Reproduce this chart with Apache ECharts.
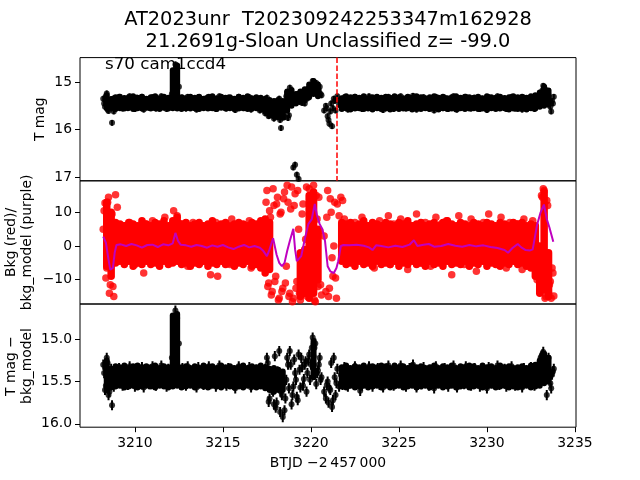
<!DOCTYPE html>
<html><head><meta charset="utf-8">
<script src="https://cdn.jsdelivr.net/npm/echarts@6/dist/echarts.min.js"></script>
<style>html,body{margin:0;padding:0;background:#fff}#c{width:640px;height:480px}</style>
</head><body><div id="c"></div>
<script>
// ---- individual points ----
const btjd = [
3208.2,3208.3,3208.4,3208.5,3208.6,3208.7,3208.8,3208.9,3209.0,3209.1,
3209.2,3209.3,3209.4,3209.5,3209.6,3209.7,3209.8,3209.9,3210.0,3210.1,
3210.2,3210.3,3210.4,3210.5,3210.6,3210.7,3210.8,3210.9,3211.0,3211.1,
3211.2,3211.3,3211.4,3211.5,3211.6,3211.7,3211.8,3211.9,3212.0,3212.1,
3212.2,3212.3,3212.4,3212.5,3212.6,3212.7,3212.8,3212.9,3213.0,3213.1,
3213.2,3213.3,3213.4,3213.5,3213.6,3213.7,3213.8,3213.9,3214.0,3214.1,
3214.2,3214.3,3214.4,3214.5,3214.6,3214.7,3214.8,3214.9,3215.0,3215.1,
3215.2,3215.3,3215.4,3215.5,3215.6,3215.7,3215.8,3215.9,3216.0,3216.1,
3216.2,3216.3,3216.4,3216.5,3216.6,3216.7,3216.8,3216.9,3217.0,3217.1,
3217.2,3217.3,3217.4,3217.5,3217.6,3217.7,3217.8,3217.9,3218.0,3218.1,
3218.2,3218.3,3218.4,3218.5,3218.6,3218.7,3218.8,3218.9,3219.0,3219.1,
3219.2,3219.3,3219.4,3219.5,3219.6,3219.7,3219.8,3219.9,3220.0,3220.1,
3220.2,3220.3,3220.4,3220.5,3220.6,
3220.9,3221.0,3221.1,3221.2,3221.3,3221.4,3221.5,3221.6,
3221.7,3221.8,3221.9,3222.0,3222.1,3222.2,3222.3,3222.4,3222.5,3222.6,
3222.7,3222.8,3222.9,3223.0,3223.1,3223.2,3223.3,3223.4,3223.5,3223.6,
3223.7,3223.8,3223.9,3224.0,3224.1,3224.2,3224.3,3224.4,3224.5,3224.6,
3224.7,3224.8,3224.9,3225.0,3225.1,3225.2,3225.3,3225.4,3225.5,3225.6,
3225.7,3225.8,3225.9,3226.0,3226.1,3226.2,3226.3,3226.4,3226.5,3226.6,
3226.7,3226.8,3226.9,3227.0,3227.1,3227.2,3227.3,3227.4,3227.5,3227.6,
3227.7,3227.8,3227.9,3228.0,3228.1,3228.2,3228.3,3228.4,3228.5,3228.6,
3228.7,3228.8,3228.9,3229.0,3229.1,3229.2,3229.3,3229.4,3229.5,3229.6,
3229.7,3229.8,3229.9,3230.0,3230.1,3230.2,3230.3,3230.4,3230.5,3230.6,
3230.7,3230.8,3230.9,3231.0,3231.1,3231.2,3231.3,3231.4,3231.5,3231.6,
3231.7,3231.8,3231.9,3232.0,3232.1,3232.2,3232.3,3232.4,3232.5,3232.6,
3232.7,3232.8,3232.9,3233.0,3233.1,3233.2,3233.3,3233.4,3233.5,3233.6,
3233.7,3233.8];

const tmag = [
15.35,15.52,15.24,15.61,15.44,15.86,15.62,15.38,15.50,15.31,
15.47,15.56,15.34,15.42,15.55,15.30,15.49,15.39,15.57,15.33,
15.45,15.52,15.31,15.58,15.40,15.36,15.54,15.43,15.32,15.50,
15.56,15.38,15.46,15.30,15.53,15.41,15.57,15.34,15.48,15.25,
14.90,14.63,14.72,15.10,15.55,15.33,15.47,15.56,15.31,15.44,
15.52,15.36,15.43,15.58,15.32,15.49,15.40,15.55,15.35,15.46,
15.31,15.54,15.42,15.37,15.57,15.45,15.30,15.51,15.39,15.48,
15.56,15.33,15.44,15.52,15.36,15.59,15.41,15.31,15.50,15.43,
15.55,15.37,15.47,15.32,15.58,15.40,15.53,15.35,15.46,15.60,
15.38,15.52,15.66,15.33,15.72,15.45,15.62,15.77,15.41,15.68,
15.35,15.97,15.58,15.74,15.30,15.76,15.12,15.46,16.80,16.74,
16.95,17.04,15.22,15.44,15.28,15.38,15.15,15.32,15.07,14.98,
15.12,15.02,15.20,15.10,15.28,
15.55,15.80,15.62,15.93,15.35,15.60,15.30,15.48,
15.40,15.55,15.32,15.47,15.58,15.36,15.50,15.43,15.31,15.54,
15.38,15.49,15.57,15.34,15.45,15.52,15.30,15.41,15.56,15.37,
15.48,15.33,15.55,15.42,15.59,15.35,15.46,15.31,15.53,15.40,
15.57,15.36,15.44,15.51,15.30,15.48,15.38,15.56,15.43,15.33,
15.52,15.29,15.47,15.58,15.37,15.45,15.54,15.32,15.49,15.40,
15.56,15.35,15.42,15.60,15.31,15.50,15.44,15.37,15.55,15.33,
15.46,15.57,15.39,15.52,15.30,15.43,15.58,15.36,15.48,15.41,
15.54,15.31,15.47,15.38,15.56,15.44,15.33,15.51,15.40,15.57,
15.35,15.49,15.42,15.59,15.32,15.46,15.53,15.37,15.45,15.30,
15.55,15.41,15.48,15.34,15.57,15.39,15.52,15.31,15.46,15.56,
15.36,15.50,15.43,15.58,15.33,15.47,15.40,15.54,15.32,15.49,
15.57,15.38,15.44,15.30,15.22,15.08,15.15,15.45,15.28,15.52,
15.40,15.31];

const bkg = [
5.0,12.8,-6.5,14.5,-11.5,9.5,-15.0,15.2,11.5,-3.0,
3.5,-2.5,6.0,-4.0,1.5,7.0,-1.0,4.5,-5.5,2.0,
-3.0,5.5,0.5,-8.0,6.5,-1.5,3.0,-4.5,7.5,1.0,
-2.0,4.0,-5.0,6.0,0.0,8.5,-3.5,2.5,-1.0,5.0,
10.5,3.5,9.0,-2.5,6.5,-4.5,1.5,5.0,-6.0,3.0,
-1.5,7.0,-3.5,4.5,0.5,-5.0,6.0,-2.0,2.5,-4.0,
5.5,-8.5,3.0,-1.0,7.0,-9.0,1.5,4.5,-3.0,6.5,
-0.5,3.5,-5.5,8.0,0.5,-2.5,5.0,-4.0,2.0,6.0,
-3.5,4.0,-1.5,7.5,-6.5,2.5,5.5,-2.5,1.0,4.5,
-4.5,6.0,-2.0,16.5,-11.0,8.5,-13.5,12.0,-9.0,14.5,
-15.5,10.0,-12.5,16.0,-6.0,13.0,-14.0,17.5,-15.5,15.5,
-10.5,5.0,-16.0,9.5,-13.0,2.0,-15.0,17.0,-8.0,13.5,
-16.0,15.0,-12.0,4.5,-14.5,
8.5,-15.0,14.0,-3.5,0.0,-9.5,12.5,9.0,
14.5,13.5,8.0,-3.0,5.5,-1.0,3.0,-4.5,7.0,0.5,
-2.5,4.5,8.5,-5.0,2.0,6.0,-3.5,1.0,5.0,-6.5,
3.5,-1.5,7.5,-4.0,0.5,5.5,-2.5,9.0,-5.5,2.5,
6.5,-3.0,4.0,-0.5,8.0,-4.5,1.5,5.0,-7.0,3.0,
-1.0,6.0,-3.5,9.5,0.0,4.5,-5.0,2.0,7.0,-2.0,
3.5,-6.0,5.5,-1.5,8.5,-3.5,1.0,6.5,-4.5,2.5,
7.5,-2.5,4.0,-8.5,0.5,5.5,-4.0,9.0,-1.0,3.0,
-5.5,6.0,1.5,-3.0,8.0,-0.5,4.5,-7.5,2.5,5.5,
-2.0,7.0,-4.5,3.5,9.5,-1.5,1.0,6.0,-5.0,4.0,
-3.0,8.5,0.0,5.0,-6.5,2.5,7.0,-2.5,3.5,-4.0,
6.5,-1.0,4.0,-7.0,8.0,1.5,-3.5,5.5,-0.5,7.5,
-5.0,-8.5,-3.0,-12.0,15.0,17.0,-15.5,13.5,-14.0,-10.5,
-6.5,-14.8];

const diffMag = [
15.30,15.60,15.22,15.66,15.45,15.78,15.56,15.38,15.50,15.34,
15.46,15.55,15.35,15.43,15.54,15.32,15.48,15.40,15.56,15.34,
15.44,15.51,15.33,15.57,15.41,15.37,15.53,15.42,15.32,15.49,
15.55,15.39,15.46,15.31,15.52,15.42,15.56,15.35,15.47,15.22,
14.88,14.66,14.75,15.05,15.54,15.34,15.46,15.55,15.32,15.45,
15.51,15.37,15.44,15.57,15.33,15.48,15.41,15.54,15.36,15.45,
15.32,15.53,15.43,15.38,15.56,15.44,15.31,15.50,15.40,15.47,
15.55,15.34,15.45,15.51,15.37,15.58,15.42,15.32,15.49,15.44,
15.54,15.38,15.46,15.33,15.57,15.41,15.52,15.36,15.45,15.50,
15.39,15.52,15.35,15.22,15.74,15.45,15.60,15.77,15.81,15.38,
15.14,15.62,15.92,15.84,15.48,15.30,15.14,15.77,15.56,15.40,
15.68,15.18,15.57,15.33,15.47,15.26,15.40,15.18,15.30,14.98,
15.10,15.53,15.37,15.22,15.45,
15.54,15.75,15.60,15.80,15.22,15.66,15.35,15.56,
15.42,15.54,15.33,15.48,15.56,15.37,15.50,15.44,15.32,15.52,
15.39,15.61,15.55,15.34,15.46,15.51,15.32,15.42,15.56,15.38,
15.47,15.34,15.54,15.43,15.57,15.36,15.45,15.31,15.52,15.41,
15.55,15.37,15.44,15.50,15.31,15.47,15.39,15.56,15.42,15.34,
15.51,15.30,15.46,15.57,15.38,15.44,15.53,15.33,15.48,15.41,
15.55,15.36,15.43,15.58,15.32,15.49,15.45,15.38,15.54,15.34,
15.45,15.56,15.40,15.51,15.31,15.44,15.57,15.37,15.47,15.42,
15.53,15.32,15.46,15.39,15.55,15.43,15.34,15.50,15.41,15.56,
15.36,15.48,15.43,15.58,15.33,15.45,15.52,15.38,15.44,15.31,
15.54,15.42,15.47,15.35,15.56,15.40,15.51,15.32,15.45,15.55,
15.37,15.49,15.42,15.57,15.34,15.46,15.41,15.53,15.33,15.48,
15.55,15.39,15.44,15.27,15.20,15.15,15.30,15.66,15.22,15.52,
15.42,15.35];

// extra half-step samples where the light curve is noisy (start, disturbed middle, end)
const extraT = [
3208.25,3208.35,3208.45,3208.55,3208.65,3208.75,
3217.45,3217.55,3217.65,3217.75,3217.85,3217.95,3218.05,3218.15,3218.25,3218.35,
3218.45,3218.55,3218.65,3218.75,3218.85,3218.95,3219.05,3219.15,3219.25,3219.35,
3219.45,3219.55,3219.65,3219.75,3219.85,3219.95,3220.05,3220.15,3220.25,3220.35,
3220.45,3220.55,3220.75,3220.85,3220.95,3221.05,3221.15,3221.25,3221.35,3221.45,
3232.85,3232.95,3233.05,3233.15,3233.25,3233.35,3233.45,3233.55,3233.65,3233.75];
const extraMag = [
15.45,15.30,15.58,15.40,15.52,15.35,
15.60,15.48,15.70,15.55,15.66,15.74,15.50,15.62,15.80,15.70,
15.65,15.55,15.22,15.70,15.28,15.40,15.30,15.35,15.25,15.42,
15.30,15.20,15.45,15.25,15.33,15.12,15.20,15.05,15.15,15.08,
15.18,15.25,15.60,15.50,15.72,15.88,15.45,15.55,15.40,15.38,
15.50,15.40,15.25,15.18,15.12,15.20,15.35,15.40,15.62,15.45];
const extraBkg = [
10.5,-9.5,13.0,-14.0,6.0,-12.0,
13.0,-12.0,10.5,-14.5,17.0,-10.5,12.5,-16.0,9.5,-13.5,
14.0,-11.0,18.0,-15.0,11.0,-16.5,12.0,-12.5,16.5,-14.0,
-9.0,12.5,-5.5,17.5,-12.0,10.0,-4.0,18.0,-16.5,8.0,
14.5,-11.5,3.0,-13.5,16.5,-12.5,10.0,-9.0,13.0,-15.5,
-10.0,-6.0,-13.5,14.5,16.5,-15.0,12.0,-11.5,-15.5,-8.0];
const extraDiff = [
15.40,15.55,15.28,15.62,15.35,15.52,
15.55,15.28,15.70,15.40,15.62,15.20,15.75,15.45,15.86,15.66,
15.52,15.70,15.22,15.58,15.30,15.66,15.24,15.48,15.72,15.36,
15.22,15.55,15.30,15.62,15.25,15.48,15.10,15.20,15.05,15.40,
15.30,15.48,15.62,15.70,15.50,15.58,15.28,15.72,15.45,15.52,
15.45,15.32,15.22,15.18,15.28,15.40,15.25,15.45,15.58,15.38];

const magErr = 0.06;

// ---- envelope of the dense, overlapping point cloud (low / high point centres per time bin) ----
const envT = [
3208.4,3208.65,3208.9,3209.15,3209.4,3209.65,3209.9,3210.15,3210.4,3210.65,
3210.9,3211.15,3211.4,3211.65,3211.9,3212.15,3212.4,3212.65,3212.9,3213.15,
3213.4,3213.65,3213.9,3214.15,3214.4,3214.65,3214.9,3215.15,3215.4,3215.65,
3215.9,3216.15,3216.4,3216.65,3216.9,3217.15,3217.4,3217.65,3217.9,3218.15,
3218.4,3218.65,3218.9,3219.15,3219.4,3219.65,3219.9,3220.15,3220.4,
3221.75,3222.0,3222.25,3222.5,3222.75,3223.0,3223.25,3223.5,3223.75,3224.0,
3224.25,3224.5,3224.75,3225.0,3225.25,3225.5,3225.75,3226.0,3226.25,3226.5,
3226.75,3227.0,3227.25,3227.5,3227.75,3228.0,3228.25,3228.5,3228.75,3229.0,
3229.25,3229.5,3229.75,3230.0,3230.25,3230.5,3230.75,3231.0,3231.25,3231.5,
3231.75,3232.0,3232.25,3232.5,3232.75,3233.0,3233.25,3233.5];

const magLo = [
15.28,15.36,15.32,15.31,15.34,15.32,15.30,15.33,15.31,15.35,
15.32,15.30,15.34,15.31,15.33,14.75,14.65,15.32,15.34,15.31,
15.33,15.31,15.35,15.32,15.30,15.34,15.31,15.33,15.32,15.35,
15.31,15.33,15.30,15.34,15.32,15.33,15.35,15.38,15.40,15.38,
15.40,15.20,15.17,15.25,15.20,15.15,15.05,14.98,15.05,
15.34,15.30,15.32,15.31,15.33,15.30,15.34,15.32,15.31,15.33,
15.31,15.33,15.30,15.32,15.34,15.31,15.33,15.30,15.32,15.34,
15.32,15.30,15.33,15.31,15.34,15.32,15.30,15.33,15.31,15.32,
15.33,15.31,15.34,15.30,15.32,15.33,15.31,15.34,15.32,15.30,
15.32,15.31,15.33,15.30,15.28,15.22,15.10,15.18];
const magHi = [
15.55,15.56,15.57,15.55,15.56,15.54,15.57,15.55,15.56,15.54,
15.56,15.55,15.57,15.54,15.56,15.55,15.56,15.57,15.55,15.56,
15.55,15.57,15.54,15.56,15.55,15.57,15.54,15.56,15.55,15.57,
15.56,15.55,15.57,15.56,15.55,15.58,15.62,15.70,15.72,15.74,
15.75,15.60,15.50,15.45,15.40,15.35,15.30,15.25,15.30,
15.57,15.55,15.58,15.56,15.55,15.57,15.56,15.58,15.55,15.57,
15.56,15.58,15.55,15.57,15.56,15.55,15.58,15.56,15.57,15.55,
15.57,15.56,15.58,15.55,15.57,15.56,15.58,15.55,15.57,15.56,
15.55,15.57,15.56,15.58,15.55,15.57,15.56,15.55,15.58,15.56,
15.57,15.56,15.58,15.55,15.56,15.52,15.50,15.48];

const bkgLo = [
-6.0,-9.0,-5.0,-4.5,-5.5,-4.5,-6.0,-5.0,-5.5,-4.5,
-5.5,-5.0,-6.0,-4.5,-5.5,-5.0,-4.5,-5.5,-5.0,-6.0,
-5.0,-5.5,-4.5,-6.0,-5.0,-5.5,-4.5,-5.5,-5.0,-6.0,
-5.0,-5.5,-4.5,-6.0,-5.5,-6.5,-8.0,-7.0,null,null,
null,null,null,null,-15.0,-14.0,-15.5,-14.0,-10.0,
-4.5,-5.5,-5.0,-6.0,-4.5,-5.5,-5.0,-6.0,-4.5,-5.5,
-5.0,-5.5,-4.5,-6.0,-5.0,-5.5,-4.5,-5.5,-5.0,-6.0,
-4.5,-5.5,-5.0,-6.0,-4.5,-5.5,-5.0,-5.5,-4.5,-6.0,
-5.0,-5.5,-4.5,-6.0,-5.0,-5.5,-6.0,-5.0,-5.5,-4.5,
-5.5,-5.0,-6.0,-6.5,-9.0,-14.0,-13.0,-15.0];
const bkgHi = [
13.0,10.0,7.0,6.5,6.0,7.0,6.5,6.0,7.5,6.5,
6.0,7.0,6.5,7.5,6.0,7.5,8.5,6.5,7.0,6.0,
6.5,7.0,6.0,6.5,7.5,6.0,6.5,7.0,6.0,6.5,
7.0,6.5,6.0,7.0,6.5,7.5,8.0,7.0,null,null,
null,null,null,null,-2.0,-1.0,15.0,16.0,5.0,
7.0,6.5,7.0,6.0,6.5,7.5,6.0,7.0,6.5,6.0,
7.0,6.5,6.0,7.0,6.5,7.5,6.0,6.5,7.0,6.0,
6.5,7.0,6.0,7.0,7.5,6.5,6.0,7.0,6.5,6.0,
7.0,6.5,6.0,7.0,6.5,6.0,7.0,6.5,6.0,7.0,
6.5,7.0,6.0,6.5,6.0,0.0,16.0,-2.0];

const diffLo = [
15.25,15.35,15.32,15.33,15.31,15.34,15.32,15.31,15.33,15.32,
15.33,15.31,15.34,15.32,15.33,14.72,14.70,15.33,15.32,15.34,
15.32,15.34,15.31,15.33,15.32,15.34,15.31,15.33,15.32,15.34,
15.33,15.31,15.34,15.32,15.33,15.31,15.33,15.35,15.34,15.36,
15.38,null,null,null,null,null,null,15.02,null,
15.33,15.31,15.34,15.32,15.33,15.31,15.34,15.32,15.33,15.31,
15.32,15.34,15.31,15.33,15.32,15.34,15.31,15.33,15.32,15.34,
15.33,15.31,15.34,15.32,15.33,15.31,15.34,15.32,15.33,15.31,
15.32,15.34,15.31,15.33,15.32,15.34,15.31,15.33,15.32,15.34,
15.33,15.32,15.34,15.31,15.30,15.25,15.17,15.22];
const diffHi = [
15.60,15.57,15.56,15.55,15.57,15.56,15.55,15.57,15.56,15.55,
15.56,15.57,15.55,15.56,15.57,15.56,15.55,15.57,15.56,15.55,
15.57,15.55,15.56,15.57,15.55,15.56,15.57,15.55,15.56,15.57,
15.56,15.57,15.55,15.56,15.57,15.56,15.58,15.60,15.62,15.60,
15.60,null,null,null,null,null,null,15.45,null,
15.56,15.57,15.55,15.57,15.56,15.55,15.57,15.56,15.55,15.57,
15.55,15.57,15.56,15.55,15.57,15.56,15.55,15.57,15.56,15.55,
15.57,15.56,15.55,15.57,15.56,15.55,15.57,15.56,15.55,15.57,
15.56,15.55,15.57,15.56,15.55,15.57,15.56,15.55,15.57,15.56,
15.57,15.56,15.55,15.57,15.56,15.55,15.52,15.50];

// ---- smoothed background model (purple) ----
const modelT = [
3208.2,3208.35,3208.5,3208.6,3208.75,3208.85,3208.95,
3209.2,3209.5,3209.8,3210.1,3210.4,3210.7,3211.0,3211.3,3211.6,3211.9,
3212.15,3212.3,3212.45,3212.6,3212.9,
3213.2,3213.5,3213.8,3214.1,3214.4,3214.7,3215.0,3215.3,3215.6,3215.9,
3216.2,3216.5,3216.8,3217.1,3217.3,3217.5,3217.65,3217.85,
3218.05,3218.2,3218.35,3218.5,3218.65,3218.8,3219.0,3219.1,3219.2,3219.45,
3219.65,3219.85,3220.05,3220.22,3220.35,3220.5,3220.65,3220.8,3220.95,3221.1,
3221.3,3221.45,3221.55,3221.7,3221.85,3222.2,3222.6,3223.0,3223.3,3223.5,
3223.7,3224.0,3224.4,3224.8,3225.2,3225.6,3225.85,3226.05,3226.4,3226.7,
3227.0,3227.4,3227.8,3228.2,3228.6,3229.0,3229.4,3229.8,3230.2,3230.6,
3231.0,3231.2,3231.45,3231.75,3231.95,3232.2,3232.45,3232.6,3232.72,3232.85,
3233.05,3233.24,3233.4,3233.55,3233.77];
const modelV = [
2.8,1.0,-4.0,-7.0,-6.5,-2.0,0.3,
0.5,0.0,0.6,0.2,-0.5,0.3,0.4,-0.3,0.5,0.2,
0.8,3.9,1.5,0.4,0.2,
-0.2,0.3,0.0,-0.5,0.2,-0.2,0.3,-0.4,-0.9,-0.2,
0.3,-0.4,0.0,-0.5,-1.5,-3.0,-1.0,2.3,
-2.6,-5.0,-6.0,-5.0,-1.5,1.5,5.1,-1.0,-4.5,-3.0,
2.0,6.5,8.0,12.5,8.9,6.5,5.0,1.5,-6.0,-7.5,
-8.0,-6.5,-4.5,0.0,0.3,0.2,0.4,0.1,-0.4,-1.2,
0.2,0.0,-0.4,0.1,-0.3,0.4,1.7,0.0,0.4,0.6,
-0.2,0.0,0.6,0.1,-0.2,0.3,-0.1,0.2,-0.3,-0.6,
-1.2,-2.0,-0.6,0.6,-0.4,-1.2,-1.3,-1.0,2.5,6.3,
10.0,12.3,8.0,5.5,1.3];

const eventTime = 3221.46;
const xTicks = [3210, 3215, 3220, 3225, 3230, 3235];
const yTicksMag = [15, 16, 17];
const yTicksBkg = [-10, 0, 10];
const yTicksDiff = [15.0, 15.5, 16.0];

const titleLines = ['AT2023unr  T202309242253347m162928', '21.2691g-Sloan Unclassified z= -99.0'];
const cornerText = 's70 cam1ccd4';
const xLabel = 'BTJD \u22122\u2009457\u2009000';

// ---- chart ----
const FONT = '"DejaVu Sans", sans-serif';
const FS = 13.9;
const X_MIN = 3206.88, X_MAX = 3235.06;
const L = 80, W = 496, H = 123.2;
const TOPS = [57.6, 180.8, 304];

const allT = btjd.concat(extraT);
const allMag = tmag.concat(extraMag);
const allBkg = bkg.concat(extraBkg);
const allDiff = diffMag.concat(extraDiff);

const magPts = allT.map((t, i) => [t, allMag[i], magErr]);
const bkgPts = allT.map((t, i) => [t, allBkg[i]]);
const diffPts = allT.map((t, i) => [t, allDiff[i], magErr]);
const modelPts = modelT.map((t, i) => [t, modelV[i]]);
function envData(lo, hi) {
  return envT.map((t, i) => [t, lo[i], hi[i]]).filter(d => d[1] != null && d[2] != null);
}

function minus(v) { return v < 0 ? '\u2212' + Math.abs(v) : String(v); }

function xAx(i, show) {
  return {
    type: 'value', gridIndex: i, min: X_MIN, max: X_MAX,
    splitLine: { show: false },
    axisLine: { show: false, onZero: false },
    axisTick: { show: show, customValues: xTicks, length: 5, lineStyle: { color: '#000', width: 1 } },
    axisLabel: { show: show, customValues: xTicks, margin: 9, color: '#000', fontFamily: FONT, fontSize: FS,
      showMinLabel: true, showMaxLabel: true, formatter: v => String(v) }
  };
}
function yAx(i, min, max, inverse, ticks, fmt) {
  return {
    type: 'value', gridIndex: i, min: min, max: max, inverse: inverse,
    splitLine: { show: false },
    axisLine: { show: false, onZero: false },
    axisTick: { show: true, customValues: ticks, length: 5, lineStyle: { color: '#000', width: 1 } },
    axisLabel: { show: true, customValues: ticks, margin: 8, color: '#000', fontFamily: FONT, fontSize: FS,
      showMinLabel: true, showMaxLabel: true, formatter: fmt }
  };
}
function errRender(params, api) {
  const x = api.value(0), y = api.value(1), e = api.value(2);
  const a = api.coord([x, y - e]), b = api.coord([x, y + e]);
  return { type: 'line', shape: { x1: a[0], y1: a[1], x2: b[0], y2: b[1] },
    style: { stroke: '#000', lineWidth: 2 } };
}
function bandRender(color, w) {
  return function (params, api) {
    const x = api.value(0), lo = api.value(1), hi = api.value(2);
    const a = api.coord([x, lo]), b = api.coord([x, hi]);
    return { type: 'line', shape: { x1: a[0], y1: a[1], x2: b[0], y2: b[1] },
      style: { stroke: color, lineWidth: w, lineCap: 'round' } };
  };
}

const chart = echarts.init(document.getElementById('c'), null, { renderer: 'canvas', width: 640, height: 480 });

const txt = (x, y, text, size, align, rot) => ({
  type: 'text', x: x, y: y, rotation: rot || 0, z: 100,
  style: { text: text, fill: '#000', font: size + 'px ' + FONT, align: align, verticalAlign: 'middle',
    textAlign: align, textVerticalAlign: 'middle' }
});

chart.setOption({
  animation: false,
  backgroundColor: '#fff',
  grid: TOPS.map(t => ({ left: L, width: W, top: t, height: H, show: true, borderColor: '#000', borderWidth: 1,
    backgroundColor: 'transparent', containLabel: false })),
  xAxis: [xAx(0, false), xAx(1, false), xAx(2, true)],
  yAxis: [
    yAx(0, 14.486, 17.08, true, yTicksMag, v => String(v)),
    yAx(1, -17.2, 19.35, false, yTicksBkg, minus),
    yAx(2, 14.583, 16.04, true, yTicksDiff, v => v.toFixed(1))
  ],
  graphic: [
    txt(328, 20, titleLines[0], 19.4, 'center'),
    txt(328, 41.7, titleLines[1], 19.4, 'center'),
    txt(105, 64.5, cornerText, 16.7, 'left'),
    txt(40, 119.2, 'T mag', FS, 'center', Math.PI / 2),
    txt(11, 242.4, 'Bkg (red)/', FS, 'center', Math.PI / 2),
    txt(27.5, 242.4, 'bkg_model (purple)', FS, 'center', Math.PI / 2),
    txt(11, 366, 'T mag \u2212', FS, 'center', Math.PI / 2),
    txt(27.5, 366, 'bkg_model', FS, 'center', Math.PI / 2),
    txt(328, 463, xLabel, FS, 'center')
  ],
  series: [
    // panel 1
    { type: 'custom', xAxisIndex: 0, yAxisIndex: 0, data: envData(magLo, magHi), renderItem: bandRender('#000', 6),
      clip: true, encode: { x: 0, y: [1, 2] }, silent: true },
    { type: 'custom', xAxisIndex: 0, yAxisIndex: 0, data: magPts, renderItem: errRender, clip: true,
      encode: { x: 0, y: 1 }, silent: true },
    { type: 'scatter', xAxisIndex: 0, yAxisIndex: 0, data: magPts.map(p => [p[0], p[1]]), symbol: 'circle',
      symbolSize: 6, itemStyle: { color: '#000' }, clip: true, silent: true,
      markLine: { silent: true, symbol: ['none', 'none'], label: { show: false },
        lineStyle: { color: '#ff0000', type: [5.5, 2.4], width: 1.5 },
        data: [{ xAxis: eventTime }] } },
    // panel 2
    { type: 'custom', xAxisIndex: 1, yAxisIndex: 1, data: envData(bkgLo, bkgHi), renderItem: bandRender('#ff0000', 7.5),
      clip: true, encode: { x: 0, y: [1, 2] }, silent: true },
    { type: 'scatter', xAxisIndex: 1, yAxisIndex: 1, data: bkgPts, symbol: 'circle', symbolSize: 7.5,
      itemStyle: { color: '#ff0000' }, clip: true, silent: true },
    { type: 'line', xAxisIndex: 1, yAxisIndex: 1, data: modelPts, showSymbol: false, symbol: 'none',
      lineStyle: { color: '#bf00bf', width: 2 }, clip: true, silent: true, z: 5 },
    // panel 3
    { type: 'custom', xAxisIndex: 2, yAxisIndex: 2, data: envData(diffLo, diffHi), renderItem: bandRender('#000', 6),
      clip: true, encode: { x: 0, y: [1, 2] }, silent: true },
    { type: 'custom', xAxisIndex: 2, yAxisIndex: 2, data: diffPts, renderItem: errRender, clip: true,
      encode: { x: 0, y: 1 }, silent: true },
    { type: 'scatter', xAxisIndex: 2, yAxisIndex: 2, data: diffPts.map(p => [p[0], p[1]]), symbol: 'circle',
      symbolSize: 6, itemStyle: { color: '#000' }, clip: true, silent: true }
  ]
});
</script>
</body></html>
